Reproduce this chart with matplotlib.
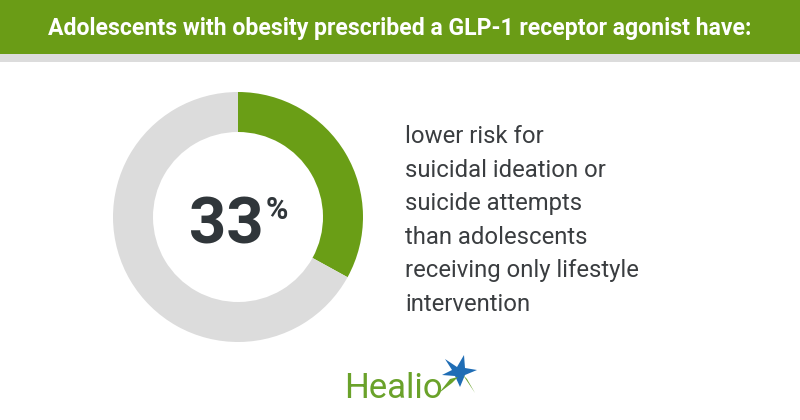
import matplotlib.pyplot as plt
from matplotlib.patches import Rectangle, Polygon

# data
share = [33, 67]
share_colors = ['#6a9e16', '#dcdcdc']
headline = 'Adolescents with obesity prescribed a GLP-1 receptor agonist have:'
big_number = '33'
caption = ['lower risk for',
           'suicidal ideation or',
           'suicide attempts',
           'than adolescents',
           'receiving only lifestyle',
           'intervention']

W, H = 800, 420
fig = plt.figure(figsize=(W / 100, H / 100), dpi=100)
fig.patch.set_facecolor('white')

# background axes in pixel coords (y down)
bg = fig.add_axes([0, 0, 1, 1])
bg.set_xlim(0, W)
bg.set_ylim(H, 0)
bg.axis('off')

bg.add_patch(Rectangle((0, 0), W, 54, color='#6a9c16', lw=0))
bg.add_patch(Rectangle((0, 54), W, 8, color='#dcdcdc', lw=0))
bg.text(W / 2, 28, headline, ha='center', va='center', color='white',
        fontsize=16.6, fontweight='bold', family='Roboto')

# donut
cx, cy, r = 238, 217, 125
dax = fig.add_axes([(cx - r) / W, (H - cy - r) / H, 2 * r / W, 2 * r / H])
dax.pie(share, colors=share_colors, startangle=90, counterclock=False,
        radius=1, wedgeprops=dict(width=40 / 125, linewidth=0))
dax.set_xlim(-1, 1)
dax.set_ylim(-1, 1)
dax.axis('off')

bg.text(226.5, 243, big_number, ha='center', va='baseline', color='#30363a',
        fontsize=47, fontweight='bold', family='Roboto')
bg.text(266, 219, '%', ha='left', va='baseline', color='#30363a',
        fontsize=22, fontweight='bold', family='Roboto')

for i, line in enumerate(caption):
    bg.text(405, 143 + i * 33.6, line, ha='left', va='baseline',
            color='#3a3d40', fontsize=17.2, family='Roboto')

# Healio logo
bg.text(344, 398, 'Healio', ha='left', va='baseline', color='#6aa22a',
        fontsize=25, family='Roboto')
star = [(445, 359), (457, 367), (464, 355), (465, 368), (477, 370),
        (465, 375), (460, 387), (455, 376), (442, 375), (452, 370)]
bg.add_patch(Polygon(star, closed=True, color='#1f6db5', lw=0))
bg.add_patch(Polygon([(439, 393), (450, 379), (458, 377), (452, 383)], closed=True,
                     color='#6aa22a', lw=0))
bg.add_patch(Polygon([(463, 375), (475, 393), (467, 379)], closed=True,
                     color='#6aa22a', lw=0))

fig.savefig('out.png', dpi=100, facecolor='white')
